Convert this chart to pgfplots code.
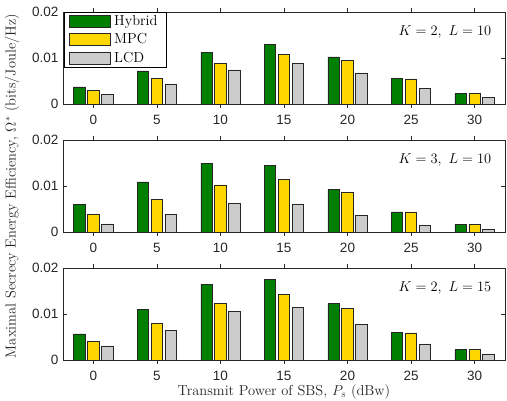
\documentclass[border=0pt]{standalone}
\usepackage{pgfplots}
\pgfplotsset{compat=1.18}
\usepackage{fontspec}
\newfontfamily\ticksf{Liberation Sans}
\definecolor{cgreen}{RGB}{0,128,0}
\definecolor{cyellow}{RGB}{255,215,0}
\definecolor{cgray}{RGB}{204,204,204}
\definecolor{axgray}{RGB}{38,38,38}

\pgfplotsset{
 mystyle/.style={
  scale only axis, width=442pt, height=92pt,
  xmin=-2.4, xmax=32.4, ymin=0, ymax=0.02,
  xtick={0,5,10,15,20,25,30}, ytick={0,0.01,0.02},
  yticklabels={0,0.01,0.02},
  scaled y ticks=false,
  tick align=inside, major tick length=4pt,
  axis line style={axgray}, tick style={axgray, line width=0.5pt},
  /pgf/number format/assume math mode=true,
  tick label style={font=\fontsize{13.5}{15}\ticksf, text=axgray},
  xticklabel style={yshift=-4pt},
  yticklabel style={xshift=-1pt},
  ybar, bar width=0.9,
 },
 leg/.style={legend image code/.code={\draw[##1, bar shift=0pt] (0pt,-6pt) rectangle (41pt,6pt);}},
 hyb/.style={fill=cgreen, draw=black!85, line width=0.6pt, bar shift=-1.1, leg},
 mpc/.style={fill=cyellow, draw=black!85, line width=0.6pt, bar shift=0, leg},
 lcd/.style={fill=cgray, draw=black!85, line width=0.6pt, bar shift=1.1, leg},
}

\begin{document}
\begin{tikzpicture}
\path[use as bounding box] (0,0) rectangle (507pt,-401pt);

% Panel 1
\begin{axis}[mystyle, at={(63pt,-12pt)}, anchor=north west,
  legend style={at={(0.002,1)}, anchor=north west, draw=black, fill=white,
    font=\fontsize{14.5}{16}\selectfont, row sep=2.5pt, inner xsep=4.5pt, inner ysep=1.5pt,
    nodes={inner xsep=4pt, inner ysep=2pt}},
  legend cell align=left]
\addplot[hyb] coordinates {(0,0.00371) (5,0.0072) (10,0.0112) (15,0.0130) (20,0.01025) (25,0.00553) (30,0.00233)};
\addplot[mpc] coordinates {(0,0.00298) (5,0.0056) (10,0.00887) (15,0.01084) (20,0.00945) (25,0.00545) (30,0.00233)};
\addplot[lcd] coordinates {(0,0.00211) (5,0.00436) (10,0.00742) (15,0.00887) (20,0.00676) (25,0.00342) (30,0.00138)};
\legend{Hybrid, MPC, LCD}
\node[anchor=east, font=\fontsize{14.5}{16}\selectfont] at (rel axis cs:0.977,0.78) {$K=2,\ L=10$};
\end{axis}

% Panel 2
\begin{axis}[mystyle, at={(63pt,-140pt)}, anchor=north west]
\addplot[hyb] coordinates {(0,0.00596) (5,0.0109) (10,0.0149) (15,0.0144) (20,0.00924) (25,0.00436) (30,0.0016)};
\addplot[mpc] coordinates {(0,0.00378) (5,0.00705) (10,0.01025) (15,0.01135) (20,0.00865) (25,0.00436) (30,0.0016)};
\addplot[lcd] coordinates {(0,0.00175) (5,0.00385) (10,0.00618) (15,0.00611) (20,0.00356) (25,0.00145) (30,0.0005)};
\node[anchor=east, font=\fontsize{14.5}{16}\selectfont] at (rel axis cs:0.977,0.78) {$K=3,\ L=10$};
\end{axis}

% Panel 3
\begin{axis}[mystyle, at={(63pt,-268pt)}, anchor=north west,
  xlabel={Transmit Power of SBS, $P_s$ (dBw)},
  xlabel style={font=\fontsize{14.5}{16}\selectfont, text=axgray, yshift=3pt}]
\addplot[hyb] coordinates {(0,0.00567) (5,0.01098) (10,0.0165) (15,0.0176) (20,0.01229) (25,0.00596) (30,0.00225)};
\addplot[mpc] coordinates {(0,0.00407) (5,0.00793) (10,0.01222) (15,0.01418) (20,0.01127) (25,0.00589) (30,0.00225)};
\addplot[lcd] coordinates {(0,0.00305) (5,0.00647) (10,0.01055) (15,0.01149) (20,0.00778) (25,0.00349) (30,0.00124)};
\node[anchor=east, font=\fontsize{14.5}{16}\selectfont] at (rel axis cs:0.977,0.78) {$K=2,\ L=15$};
\end{axis}

\node[rotate=90, font=\fontsize{14.5}{16}\selectfont, text=axgray] at (12pt,-186pt)
  {Maximal Secrecy Energy Efficiency, $\Omega^{*}$ (bits/Joule/Hz)};
\end{tikzpicture}
\end{document}
